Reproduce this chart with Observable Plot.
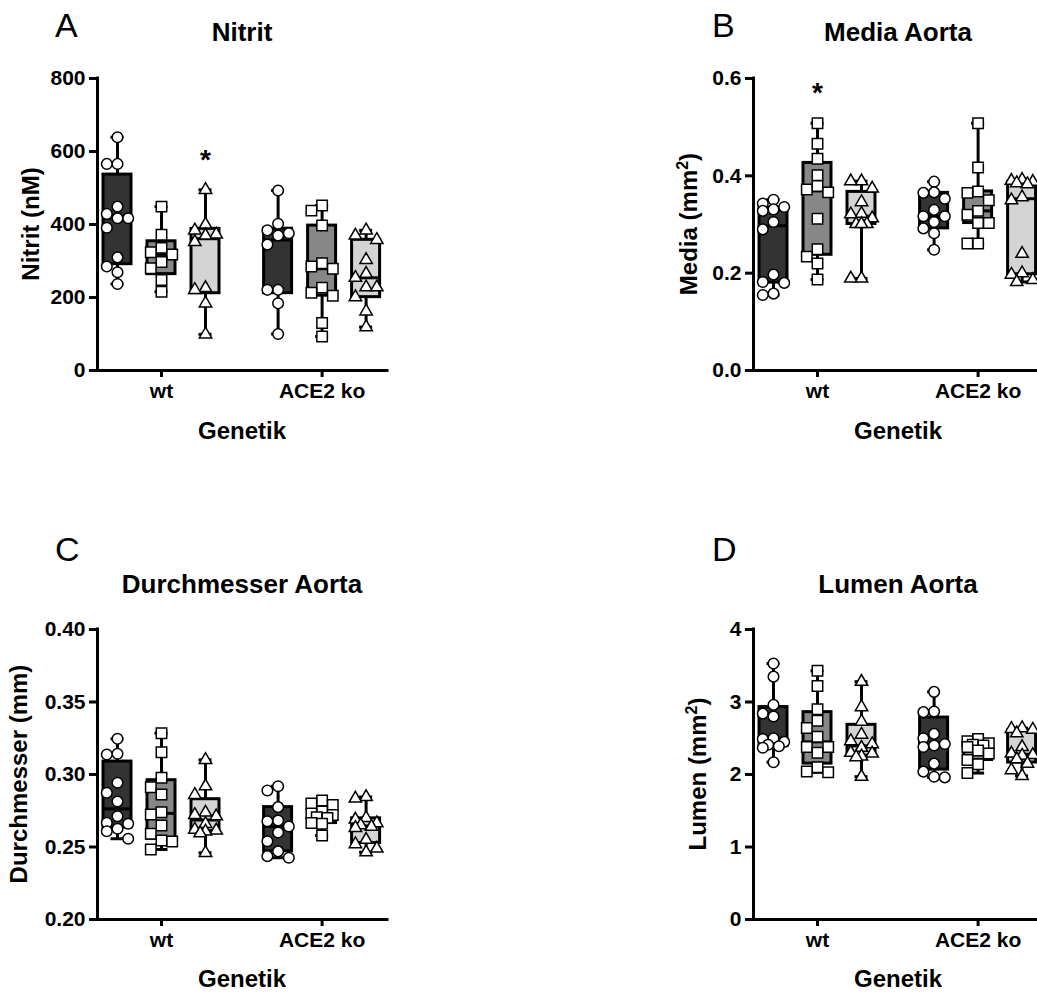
<!DOCTYPE html>
<html><head><meta charset="utf-8">
<script src="https://cdn.jsdelivr.net/npm/d3@7"></script>
<script src="https://cdn.jsdelivr.net/npm/@observablehq/plot@0.6"></script>
<style>
body{margin:0;background:#fff;}
#root{position:relative;width:1037px;height:994px;overflow:hidden;font-family:"Liberation Sans",Arial,sans-serif;background:#fff;}
.panel{position:absolute;width:420px;height:450px;}
.panel svg{max-width:none !important;}
#overlay{position:absolute;left:0;top:0;}
</style></head><body><div id="root"></div>
<script>
// ---------- data ----------
const groups = ["wt", "ACE2 ko"];
const subFills = ["#333333", "#878787", "#d4d4d4"];

// A: Nitrit (nM)
const nitritWt1 = [639, 566, 566, 449, 429, 417, 417, 391, 310, 285, 269, 237];
const nitritWt2 = [449, 372, 336, 324, 318, 297, 280, 248, 216];
const nitritWt3 = [495, 400, 384, 373, 370, 352, 226, 221, 184, 99];
const nitritKo1 = [493, 402, 384, 376, 370, 345, 221, 221, 184, 100];
const nitritKo2 = [452, 438, 397, 294, 285, 279, 227, 213, 205, 130, 93];
const nitritKo3 = [384, 370, 358, 303, 265, 254, 228, 228, 201, 162, 119];

// B: Media (mm²)
const mediaWt1 = [0.351, 0.343, 0.336, 0.331, 0.328, 0.305, 0.290, 0.197, 0.182, 0.180, 0.158, 0.155];
const mediaWt2 = [0.508, 0.466, 0.435, 0.401, 0.379, 0.372, 0.366, 0.312, 0.249, 0.234, 0.220, 0.187];
const mediaWt3 = [0.389, 0.389, 0.374, 0.346, 0.322, 0.321, 0.313, 0.301, 0.301, 0.301, 0.189, 0.189];
const mediaKo1 = [0.388, 0.366, 0.365, 0.353, 0.330, 0.317, 0.317, 0.305, 0.292, 0.282, 0.248];
const mediaKo2 = [0.508, 0.417, 0.368, 0.365, 0.350, 0.328, 0.320, 0.303, 0.303, 0.261, 0.261];
const mediaKo3 = [0.392, 0.390, 0.388, 0.385, 0.383, 0.356, 0.350, 0.240, 0.200, 0.197, 0.186, 0.182];

// C: Durchmesser (mm)
const durchWt1 = [0.3246, 0.3143, 0.3138, 0.2943, 0.2874, 0.2814, 0.2712, 0.2667, 0.2660, 0.2626, 0.2609, 0.2557];
const durchWt2 = [0.3285, 0.3154, 0.2977, 0.2912, 0.2862, 0.2740, 0.2724, 0.2648, 0.2591, 0.2545, 0.2538, 0.2483];
const durchWt3 = [0.3101, 0.2919, 0.2860, 0.2738, 0.2722, 0.2712, 0.2660, 0.2620, 0.2614, 0.2607, 0.2595, 0.2460];
const durchKo1 = [0.2919, 0.2890, 0.2775, 0.2683, 0.2678, 0.2641, 0.2600, 0.2540, 0.2470, 0.2437, 0.2426];
const durchKo2 = [0.2821, 0.2800, 0.2790, 0.2745, 0.2731, 0.2720, 0.2705, 0.2701, 0.2665, 0.2660, 0.2579];
const durchKo3 = [0.2845, 0.2835, 0.2700, 0.2690, 0.2665, 0.2650, 0.2640, 0.2632, 0.2550, 0.2520, 0.2490, 0.2464];

// D: Lumen (mm²)
const lumenWt1 = [3.53, 3.35, 2.96, 2.84, 2.80, 2.50, 2.49, 2.45, 2.41, 2.39, 2.37, 2.17];
const lumenWt2 = [3.43, 3.22, 2.90, 2.74, 2.64, 2.52, 2.38, 2.38, 2.30, 2.10, 2.04, 2.03];
const lumenWt3 = [3.28, 2.93, 2.73, 2.55, 2.46, 2.42, 2.37, 2.30, 2.29, 2.25, 2.24, 1.97];
const lumenKo1 = [3.14, 2.87, 2.86, 2.56, 2.50, 2.42, 2.40, 2.38, 2.15, 2.04, 1.97, 1.96];
const lumenKo2 = [2.49, 2.46, 2.43, 2.41, 2.40, 2.38, 2.33, 2.29, 2.20, 2.14, 2.02];
const lumenKo3 = [2.64, 2.63, 2.62, 2.57, 2.38, 2.29, 2.27, 2.26, 2.21, 2.15, 2.06, 1.98];

const ticksA = [0, 200, 400, 600, 800];
const ticksB = [0, 0.2, 0.4, 0.6];
const ticksC = [0.20, 0.25, 0.30, 0.35, 0.40];
const ticksD = [0, 1, 2, 3, 4];

// ---------- layout ----------
const FONT = '"Liberation Sans", Arial, sans-serif';
const W = 420, H = 450, ML = 97, MT = 78, PW = 290;
const UNIT = 44;                 // px per x unit (distance between boxes)
const XMIN = -64 / UNIT, XMAX = XMIN + PW / UNIT;
const G = 3.65;                  // distance between group centres (x units)
const HALF = 14 / UNIT, CAP = 6.5 / UNIT;

const panels = [
  {left: 0, top: 0, ph: 292, domain: [0, 800], ticks: ticksA, fmt: d3.format("d"),
   data: [[nitritWt1, nitritWt2, nitritWt3], [nitritKo1, nitritKo2, nitritKo3]], star: [0, 2]},
  {left: 656, top: 0, ph: 292, domain: [0, 0.6], ticks: ticksB, fmt: d3.format(".1f"),
   data: [[mediaWt1, mediaWt2, mediaWt3], [mediaKo1, mediaKo2, mediaKo3]], star: [0, 1]},
  {left: 0, top: 551, ph: 290, domain: [0.2, 0.4], ticks: ticksC, fmt: d3.format(".2f"),
   data: [[durchWt1, durchWt2, durchWt3], [durchKo1, durchKo2, durchKo3]], star: null},
  {left: 656, top: 551, ph: 290, domain: [0, 4], ticks: ticksD, fmt: d3.format("d"),
   data: [[lumenWt1, lumenWt2, lumenWt3], [lumenKo1, lumenKo2, lumenKo3]], star: null}
];

// Prism-style quantile: position p*(n+1)
function quant(sorted, p) {
  const n = sorted.length, pos = p * (n + 1), lo = Math.floor(pos), f = pos - lo;
  if (lo < 1) return sorted[0];
  if (lo >= n) return sorted[n - 1];
  return sorted[lo - 1] + f * (sorted[lo] - sorted[lo - 1]);
}

// compact beeswarm in pixel space (max one step to each side, overlaps allowed)
function swarm(values, pxPerY, d) {
  const order = values.map((v, i) => i).sort((a, b) => values[b] - values[a]);
  const placed = [], off = new Array(values.length).fill(0);
  const cands = [0, -d, d, -d / 2, d / 2];
  for (const i of order) {
    const py = -values[i] * pxPerY;
    let best = 0, bestDist = -1;
    for (const c of cands) {
      const md = placed.length ? Math.min(...placed.map(p => Math.hypot(p.x - c, p.y - py))) : Infinity;
      if (md >= d * 0.97) { best = c; bestDist = Infinity; break; }
      if (md > bestDist) { bestDist = md; best = c; }
    }
    off[i] = best; placed.push({x: best, y: py});
  }
  return off;
}

const root = document.getElementById("root");
const symbols = ["circle", "square", "triangle"];
const radii = [5.3, 5.9, 4.6];

panels.forEach(p => {
  const pxPerY = p.ph / (p.domain[1] - p.domain[0]);
  const boxes = [], dots = [];
  p.data.forEach((grp, g) => grp.forEach((vals, s) => {
    const x = g * G + (s - 1);
    const sorted = vals.slice().sort((a, b) => a - b);
    boxes.push({x, s, g, min: sorted[0], max: sorted[sorted.length - 1],
      q1: quant(sorted, 0.25), med: quant(sorted, 0.5), q3: quant(sorted, 0.75)});
    const off = swarm(vals, pxPerY, 10.7);
    vals.forEach((v, i) => dots.push({x: x + off[i] / UNIT, v, s}));
  }));
  const marks = [
    Plot.ruleX(boxes, {x: "x", y1: "min", y2: "max", stroke: "black", strokeWidth: 3}),
    Plot.ruleY(boxes, {y: "max", x1: d => d.x - CAP, x2: d => d.x + CAP, stroke: "black", strokeWidth: 3}),
    Plot.ruleY(boxes, {y: "min", x1: d => d.x - CAP, x2: d => d.x + CAP, stroke: "black", strokeWidth: 3})
  ];
  [0, 1, 2].forEach(s => {
    marks.push(Plot.rect(boxes.filter(b => b.s === s), {x1: d => d.x - HALF, x2: d => d.x + HALF, y1: "q1", y2: "q3",
      fill: subFills[s], stroke: "black", strokeWidth: 3}));
  });
  marks.push(Plot.ruleY(boxes, {y: "med", x1: d => d.x - HALF, x2: d => d.x + HALF, stroke: "black", strokeWidth: 3}));
  [0, 1, 2].forEach(s => {
    marks.push(Plot.dot(dots.filter(d => d.s === s), {x: "x", y: "v", symbol: symbols[s], r: radii[s],
      fill: "white", stroke: "black", strokeWidth: 1.5}));
  });
  if (p.star) {
    marks.push(Plot.text(boxes.filter(b => b.g === p.star[0] && b.s === p.star[1]),
      {x: "x", y: "max", text: () => "*", dy: -30, fontSize: 28, fontWeight: "bold", fill: "black"}));
  }
  marks.push(
    Plot.ruleX([XMIN], {y1: p.domain[0], y2: p.domain[1], stroke: "black", strokeWidth: 3, strokeLinecap: "square"}),
    Plot.ruleY([p.domain[0]], {x1: XMIN, x2: XMAX, stroke: "black", strokeWidth: 3, strokeLinecap: "square"}),
    Plot.axisY({ticks: p.ticks, tickFormat: p.fmt, tickSize: 8, tickPadding: 4, strokeWidth: 3,
      fontSize: 21, fontWeight: "bold", label: null}),
    Plot.axisX({ticks: [0, G], tickFormat: d => d < 1 ? groups[0] : groups[1], tickSize: 7, tickPadding: 6,
      strokeWidth: 3, fontSize: 21, fontWeight: "bold", label: null})
  );
  const chart = Plot.plot({
    width: W, height: H, marginTop: MT, marginLeft: ML, marginRight: W - ML - PW, marginBottom: H - MT - p.ph,
    x: {domain: [XMIN, XMAX], axis: null},
    y: {domain: p.domain, axis: null},
    style: {fontFamily: FONT, color: "black", background: "transparent", overflow: "visible", maxWidth: "none"},
    marks
  });
  chart.setAttribute("width", W);
  chart.setAttribute("height", H);
  const div = document.createElement("div");
  div.className = "panel";
  div.style.left = p.left + "px";
  div.style.top = p.top + "px";
  div.appendChild(chart);
  root.appendChild(div);
});

// ---------- titles / labels ----------
const sup = '<tspan dy="-9" font-size="16">2</tspan><tspan dy="9">)</tspan>';
root.insertAdjacentHTML("beforeend", `
<svg id="overlay" width="1037" height="994" font-family='${FONT}' fill="black">
  <text x="55" y="37" font-size="34">A</text>
  <text x="712" y="37" font-size="34">B</text>
  <text x="55" y="561" font-size="34">C</text>
  <text x="712" y="561" font-size="34">D</text>
  <g font-weight="bold" font-size="26" text-anchor="middle">
    <text x="242" y="41">Nitrit</text>
    <text x="898" y="41">Media Aorta</text>
    <text x="242" y="593">Durchmesser Aorta</text>
    <text x="898" y="593">Lumen Aorta</text>
  </g>
  <g font-weight="bold" font-size="24" text-anchor="middle">
    <text x="242" y="439">Genetik</text>
    <text x="898" y="439">Genetik</text>
    <text x="242" y="987">Genetik</text>
    <text x="898" y="987">Genetik</text>
    <text transform="translate(39,224) rotate(-90)">Nitrit (nM)</text>
    <text transform="translate(697,224) rotate(-90)">Media (mm${sup}</text>
    <text transform="translate(27,774) rotate(-90)">Durchmesser (mm)</text>
    <text transform="translate(706,774) rotate(-90)">Lumen (mm${sup}</text>
  </g>
</svg>`);
</script></body></html>
